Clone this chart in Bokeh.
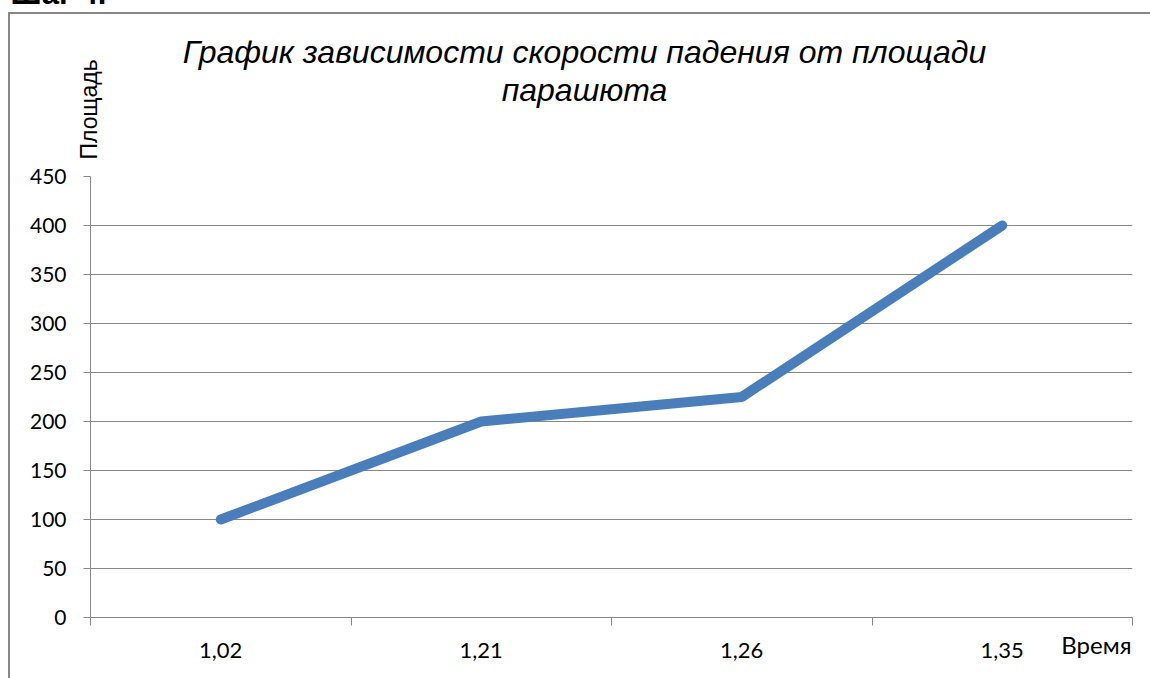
import numpy as np
from bokeh.plotting import figure
from bokeh.models import Range1d, FixedTicker, Label, ColumnDataSource
from bokeh.embed import file_html
from bokeh.resources import INLINE

# --- data ---
categories = ["1,02", "1,21", "1,26", "1,35"]
values = [100, 200, 225, 400]
y_ticks = [0, 50, 100, 150, 200, 250, 300, 350, 400, 450]

heading = "Шаг 4."
title_line1 = "График зависимости скорости падения от площади"
title_line2 = "парашюта"
y_title = "Площадь"
x_title = "Время"

GRAY = "#878787"
BLUE = "#4a7ebb"
TICK_FONT = "Lato"

n = len(categories)
xs = np.arange(n) + 0.5
src = ColumnDataSource(dict(x=xs, y=values))

# frame geometry (page pixels)
FL, FR, FT, FB = 90, 1132, 176, 617
W, H = 1150, 678
YMAX = 450


def dx(px):  # page x pixel -> data x
    return (px - FL) / (FR - FL) * n


def dy(py):  # page y pixel -> data y
    return (FB - py) / (FB - FT) * YMAX


p = figure(width=W, height=H, output_backend="svg", toolbar_location=None,
           x_range=Range1d(0, n), y_range=Range1d(0, YMAX),
           min_border_left=FL, min_border_right=W - FR, min_border_top=FT, min_border_bottom=H - FB)
p.styles = {"box-shadow": f"inset 8px 12px 0 0 white, inset 10px 14px 0 0 {GRAY}"}
p.border_fill_color = None
p.background_fill_color = None
p.outline_line_color = None

p.line("x", "y", source=src, line_color=BLUE, line_width=10, line_cap="round")

# x axis: labels at category centres, tick marks at category boundaries
xa = p.xaxis[0]
xa.ticker = FixedTicker(ticks=list(xs), minor_ticks=list(range(n + 1)))
xa.major_label_overrides = {float(x): c for x, c in zip(xs, categories)}
xa.major_tick_line_color = None
xa.major_tick_out = 0
xa.minor_tick_line_color = GRAY
xa.minor_tick_out = 8
xa.minor_tick_in = 0
xa.axis_line_color = GRAY
xa.major_label_standoff = 17
xa.major_label_text_font = TICK_FONT
xa.major_label_text_font_size = "22px"
xa.major_label_text_color = "black"

# y axis
ya = p.yaxis[0]
ya.ticker = FixedTicker(ticks=y_ticks)
ya.axis_line_color = GRAY
ya.major_tick_line_color = GRAY
ya.major_tick_out = 7
ya.major_tick_in = 0
ya.minor_tick_line_color = None
ya.major_label_standoff = 17
ya.major_label_text_font = TICK_FONT
ya.major_label_text_font_size = "21px"
ya.major_label_text_color = "black"

p.xgrid.grid_line_color = None
p.ygrid.ticker = FixedTicker(ticks=y_ticks)
p.ygrid.grid_line_color = GRAY
p.ygrid.grid_line_width = 1

# texts outside the frame (side-panel labels are not clipped)
p.add_layout(Label(x=dx(10), y=dy(-7), text=heading, text_align="left", text_baseline="alphabetic",
                   text_font="Liberation Sans", text_font_style="bold", text_font_size="31px",
                   text_color="black"), "above")
p.add_layout(Label(x=dx(584), y=dy(51), text=title_line1, text_align="center",
                   text_baseline="alphabetic", text_font="Liberation Sans", text_font_style="italic",
                   text_font_size="32px", text_color="black"), "above")
p.add_layout(Label(x=dx(584), y=dy(89), text=title_line2, text_align="center",
                   text_baseline="alphabetic", text_font="Liberation Sans", text_font_style="italic",
                   text_font_size="32px", text_color="black"), "above")
p.add_layout(Label(x=dx(1131), y=dy(644), text=x_title, text_align="right",
                   text_baseline="alphabetic", text_font=TICK_FONT, text_font_size="24px",
                   text_color="black"), "above")
p.add_layout(Label(x=dx(88), y=dy(159), text=y_title, angle=np.pi / 2, text_align="left",
                   text_baseline="alphabetic", text_font="Liberation Sans", text_font_size="23px",
                   text_color="black"), "left")

open("out.html", "w").write(file_html(p, INLINE))
